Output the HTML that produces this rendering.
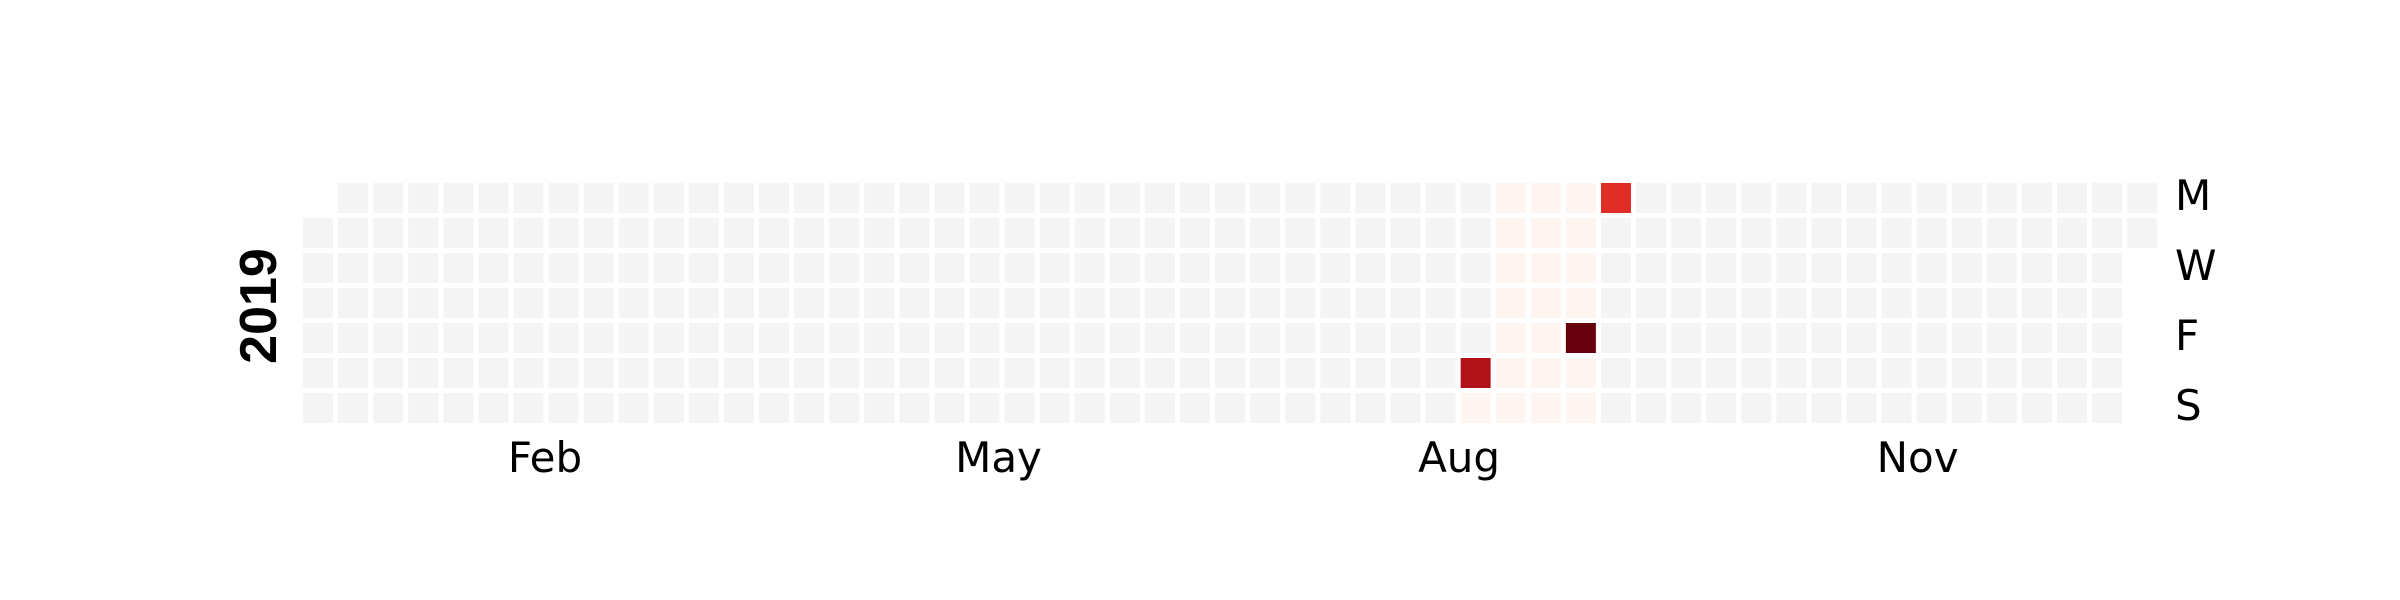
<!DOCTYPE html>
<html><head><meta charset="utf-8">
<style>
html,body{margin:0;padding:0;background:#fff;}
svg{display:block;}
</style></head>
<body>
<svg id="chart" width="2400" height="600" xmlns="http://www.w3.org/2000/svg">
  <g id="cells"></g>
  <g id="labels"></g>
</svg>
<script>
// ---- data ----
const year = 2019;
const dataDates = ["2019-08-24","2019-08-25","2019-08-26","2019-08-27","2019-08-28","2019-08-29","2019-08-30","2019-08-31","2019-09-01","2019-09-02","2019-09-03","2019-09-04","2019-09-05","2019-09-06","2019-09-07","2019-09-08","2019-09-09","2019-09-10","2019-09-11","2019-09-12","2019-09-13","2019-09-14","2019-09-15","2019-09-16"];
const dataValues = [84,1,1,1,1,1,1,1,1,1,1,1,1,1,1,1,1,1,1,1,100,1,1,68];
const monthLabels = ["Feb","May","Aug","Nov"];
const monthIndex = [1,4,7,10];
const dayLabels = ["M","W","F","S"];
const dayLabelRows = [0,2,4,6];

// ---- layout ----
const x0 = 303, y0 = 183, pitchX = 35.08, pitchY = 35, cell = 30;
const NS = "http://www.w3.org/2000/svg";
const jan1 = new Date(Date.UTC(year,0,1));
const startOffset = (jan1.getUTCDay()+6)%7; // Monday=0
function dayIdx(d){ return Math.round((d - jan1)/86400000); }
function weekOf(i){ return Math.floor((i+startOffset)/7); }
function rowOf(i){ return (i+startOffset)%7; }
function xPos(w){ return x0 + w*pitchX; }
function yPos(r){ return y0 + r*pitchY; }

const valMap = {};
dataDates.forEach((s,k)=>{ valMap[dayIdx(new Date(s+"T00:00:00Z"))] = dataValues[k]; });
const vmin = Math.min(...dataValues), vmax = Math.max(...dataValues);

const reds = [[255,245,240],[254,224,210],[252,187,161],[252,146,114],[251,106,74],[239,59,44],[203,24,29],[165,15,21],[103,0,13]];
function cmap(t){
  t = Math.max(0,Math.min(1,t))*(reds.length-1);
  const i = Math.min(Math.floor(t), reds.length-2), f = t-i;
  const c = reds[i].map((v,j)=>Math.round(v+(reds[i+1][j]-v)*f));
  return `rgb(${c[0]},${c[1]},${c[2]})`;
}

const cellsG = document.getElementById('cells');
const nDays = ((year%4===0&&year%100!==0)||year%400===0)?366:365;
for(let i=0;i<nDays;i++){
  const r = document.createElementNS(NS,'rect');
  
  
  r.setAttribute('x', xPos(weekOf(i)).toFixed(2));
  r.setAttribute('y', yPos(rowOf(i)));
  r.setAttribute('width', cell);
  r.setAttribute('height', cell);
  const v = valMap[i];
  r.setAttribute('fill', v===undefined ? '#f4f4f4' : cmap((v-vmin)/(vmax-vmin)));
  cellsG.appendChild(r);
}

const lg = document.getElementById('labels');
monthIndex.forEach((m,k)=>{
  const a = dayIdx(new Date(Date.UTC(year,m,1))), b = dayIdx(new Date(Date.UTC(year,m+1,1)));
  let s=0; for(let i=a;i<b;i++) s+=weekOf(i);
  const w = s/(b-a);
  const t = document.createElementNS(NS,'text');
  
  
  t.setAttribute('x', (xPos(w)+cell/2+14).toFixed(1));
  t.setAttribute('y', 472);
  t.setAttribute('text-anchor','middle');
  t.setAttribute('font-family','"DejaVu Sans", sans-serif');
  t.setAttribute('font-size','42');
  t.textContent = monthLabels[k];
  lg.appendChild(t);
});
dayLabels.forEach((d,k)=>{
  const t = document.createElementNS(NS,'text');
  
  
  t.setAttribute('x', 2175);
  t.setAttribute('y', yPos(dayLabelRows[k])+cell/2+12);
  t.setAttribute('font-family','"DejaVu Sans", sans-serif');
  t.setAttribute('font-size','42');
  t.textContent = d;
  lg.appendChild(t);
});
const yl = document.createElementNS(NS,'text');


yl.setAttribute('transform','translate(276,306) rotate(-90)');
yl.setAttribute('text-anchor','middle');
yl.setAttribute('font-family','"Liberation Sans", sans-serif');
yl.setAttribute('font-weight','bold');
yl.setAttribute('font-size','52');
yl.textContent = String(year);
lg.appendChild(yl);
</script>
</body></html>
